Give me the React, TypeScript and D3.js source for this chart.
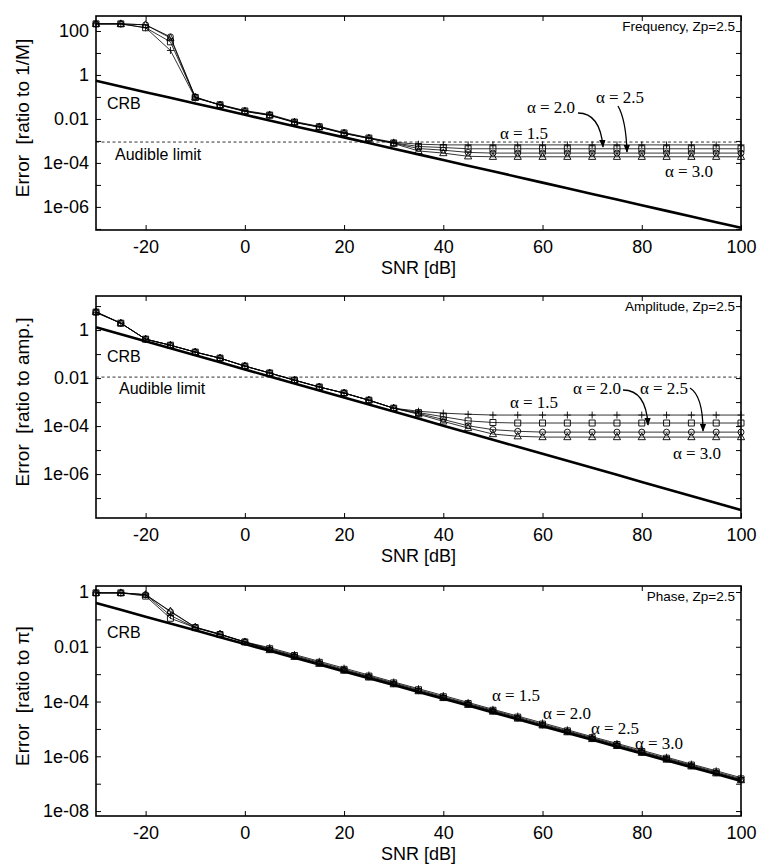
import React, { useEffect, useRef } from "react";
import * as d3 from "d3";

// SNR grid (dB), one point every 5 dB
const snr = [-30, -25, -20, -15, -10, -5, 0, 5, 10, 15, 20, 25, 30, 35, 40, 45, 50, 55, 60, 65, 70, 75, 80, 85, 90, 95, 100];

// ---- Frequency panel
const freqCrb = [5.4e-1, 3.0e-1, 1.64e-1, 9.1e-2, 5.0e-2, 2.8e-2, 1.54e-2, 8.5e-3, 4.7e-3, 2.6e-3, 1.45e-3, 8.0e-4, 4.4e-4, 2.45e-4, 1.36e-4, 7.5e-5, 4.15e-5, 2.3e-5, 1.27e-5, 7.0e-6, 3.9e-6, 2.15e-6, 1.19e-6, 6.6e-7, 3.65e-7, 2.0e-7, 1.12e-7];
const freqA15 = [2.1e2, 2.1e2, 1.4e2, 1.3e1, 8.9e-2, 4.5e-2, 2.4e-2, 1.6e-2, 7.6e-3, 4.6e-3, 2.4e-3, 1.4e-3, 8.7e-4, 7.1e-4, 6.6e-4, 6.6e-4, 6.6e-4, 6.6e-4, 6.6e-4, 6.6e-4, 6.6e-4, 6.6e-4, 6.6e-4, 6.6e-4, 6.6e-4, 6.6e-4, 6.6e-4];
const freqA20 = [2.1e2, 2.1e2, 1.4e2, 3.2e1, 9.5e-2, 4.4e-2, 2.3e-2, 1.5e-2, 7.2e-3, 4.4e-3, 2.3e-3, 1.35e-3, 8.1e-4, 5.6e-4, 5.0e-4, 4.4e-4, 4.4e-4, 4.4e-4, 4.4e-4, 4.4e-4, 4.4e-4, 4.4e-4, 4.4e-4, 4.4e-4, 4.4e-4, 4.4e-4, 4.4e-4];
const freqA25 = [2.1e2, 2.1e2, 1.9e2, 5.4e1, 1.0e-1, 4.3e-2, 2.2e-2, 1.5e-2, 7.1e-3, 4.3e-3, 2.2e-3, 1.3e-3, 7.9e-4, 4.5e-4, 3.8e-4, 3.0e-4, 2.8e-4, 2.8e-4, 2.8e-4, 2.8e-4, 2.8e-4, 2.8e-4, 2.8e-4, 2.8e-4, 2.8e-4, 2.8e-4, 2.8e-4];
const freqA30 = [2.1e2, 2.1e2, 1.9e2, 4.8e1, 9.5e-2, 4.2e-2, 2.2e-2, 1.45e-2, 6.9e-3, 4.2e-3, 2.2e-3, 1.3e-3, 7.6e-4, 3.5e-4, 2.8e-4, 2.0e-4, 1.9e-4, 1.9e-4, 1.9e-4, 1.9e-4, 1.9e-4, 1.9e-4, 1.9e-4, 1.9e-4, 1.9e-4, 1.9e-4, 1.9e-4];
const freqAudible = 8.9e-4;
const freqTicks = [100, 1, 0.01, 1e-4, 1e-6];

// ---- Amplitude panel
const ampCrb = [1.32, 6.71e-1, 3.42e-1, 1.74e-1, 8.87e-2, 4.52e-2, 2.3e-2, 1.17e-2, 5.97e-3, 3.04e-3, 1.55e-3, 7.89e-4, 4.02e-4, 2.05e-4, 1.04e-4, 5.31e-5, 2.7e-5, 1.38e-5, 7.0e-6, 3.57e-6, 1.82e-6, 9.27e-7, 4.72e-7, 2.4e-7, 1.22e-7, 6.24e-8, 3.18e-8];
const ampA15 = [5.3, 1.94, 4.19e-1, 2.34e-1, 1.21e-1, 6.78e-2, 3.16e-2, 1.63e-2, 8.2e-3, 4.25e-3, 2.38e-3, 1.2e-3, 5.56e-4, 4.16e-4, 3.46e-4, 3.11e-4, 2.88e-4, 2.88e-4, 2.88e-4, 2.88e-4, 2.88e-4, 2.88e-4, 2.88e-4, 2.88e-4, 2.88e-4, 2.88e-4, 2.88e-4];
const ampA20 = [5.6, 1.94, 4.19e-1, 2.34e-1, 1.21e-1, 6.78e-2, 3.16e-2, 1.63e-2, 8.2e-3, 4.25e-3, 2.38e-3, 1.2e-3, 5.56e-4, 3.65e-4, 2.45e-4, 1.65e-4, 1.41e-4, 1.34e-4, 1.34e-4, 1.34e-4, 1.34e-4, 1.34e-4, 1.34e-4, 1.34e-4, 1.34e-4, 1.34e-4, 1.34e-4];
const ampA25 = [5.75, 1.94, 4.19e-1, 2.34e-1, 1.21e-1, 6.78e-2, 3.16e-2, 1.63e-2, 8.2e-3, 4.25e-3, 2.38e-3, 1.2e-3, 5.56e-4, 3.37e-4, 1.88e-4, 1.03e-4, 7.1e-5, 6.07e-5, 5.6e-5, 5.6e-5, 5.6e-5, 5.6e-5, 5.6e-5, 5.6e-5, 5.6e-5, 5.6e-5, 5.6e-5];
const ampA30 = [5.75, 1.94, 4.19e-1, 2.34e-1, 1.21e-1, 6.78e-2, 3.16e-2, 1.63e-2, 8.2e-3, 4.25e-3, 2.38e-3, 1.2e-3, 5.56e-4, 3.11e-4, 1.57e-4, 8.3e-5, 4.66e-5, 3.77e-5, 3.48e-5, 3.48e-5, 3.48e-5, 3.48e-5, 3.48e-5, 3.48e-5, 3.48e-5, 3.48e-5, 3.48e-5];
const ampAudible = 1.1e-2;
const ampTicks = [1, 0.01, 1e-4, 1e-6];

// ---- Phase panel
const phaseCrb = [4.0e-1, 2.24e-1, 1.26e-1, 7.1e-2, 4.0e-2, 2.24e-2, 1.26e-2, 7.1e-3, 4.0e-3, 2.24e-3, 1.26e-3, 7.1e-4, 4.0e-4, 2.24e-4, 1.26e-4, 7.1e-5, 4.0e-5, 2.24e-5, 1.26e-5, 7.1e-6, 4.0e-6, 2.24e-6, 1.26e-6, 7.1e-7, 4.0e-7, 2.24e-7, 1.26e-7];
const phaseA15 = [9.3e-1, 9.3e-1, 7.9e-1, 1.4e-1, 5.0e-2, 2.8e-2, 1.5e-2, 9.3e-3, 5.2e-3, 2.95e-3, 1.66e-3, 9.3e-4, 5.2e-4, 2.95e-4, 1.66e-4, 9.3e-5, 5.2e-5, 2.95e-5, 1.66e-5, 9.3e-6, 5.2e-6, 2.95e-6, 1.66e-6, 9.3e-7, 5.2e-7, 2.95e-7, 1.66e-7];
const phaseA20 = [9.3e-1, 9.3e-1, 7.1e-1, 1.1e-1, 5.0e-2, 2.8e-2, 1.5e-2, 8.5e-3, 4.8e-3, 2.7e-3, 1.5e-3, 8.5e-4, 4.8e-4, 2.7e-4, 1.5e-4, 8.5e-5, 4.8e-5, 2.7e-5, 1.5e-5, 8.5e-6, 4.8e-6, 2.7e-6, 1.5e-6, 8.5e-7, 4.8e-7, 2.7e-7, 1.5e-7];
const phaseA25 = [9.3e-1, 9.3e-1, 8.0e-1, 1.9e-1, 5.2e-2, 2.9e-2, 1.5e-2, 8.0e-3, 4.5e-3, 2.5e-3, 1.4e-3, 8.0e-4, 4.5e-4, 2.5e-4, 1.4e-4, 8.0e-5, 4.5e-5, 2.5e-5, 1.4e-5, 8.0e-6, 4.5e-6, 2.5e-6, 1.4e-6, 8.0e-7, 4.5e-7, 2.5e-7, 1.4e-7];
const phaseA30 = [9.3e-1, 9.3e-1, 8.0e-1, 2.0e-1, 5.2e-2, 2.9e-2, 1.5e-2, 7.6e-3, 4.3e-3, 2.4e-3, 1.35e-3, 7.6e-4, 4.3e-4, 2.4e-4, 1.35e-4, 7.6e-5, 4.3e-5, 2.4e-5, 1.35e-5, 7.6e-6, 4.3e-6, 2.4e-6, 1.35e-6, 7.6e-7, 4.3e-7, 2.4e-7, 1.35e-7];
const phaseTicks = [1, 0.01, 1e-4, 1e-6, 1e-8];

const xTicks = [-20, 0, 20, 40, 60, 80, 100];
const alphaLabels = ["α = 1.5", "α = 2.0", "α = 2.5", "α = 3.0"];
const markerKinds = ["plus", "square", "circle", "triangle"];

const panels = [
  {
    title: "Frequency, Zp=2.5", yLabel: "Error  [ratio to 1/M]",
    top: 16, bottom: 230, yDomain: [Math.pow(10, -7.05), Math.pow(10, 2.68)], ticks: freqTicks,
    crb: freqCrb, alphas: [freqA15, freqA20, freqA25, freqA30], audible: freqAudible,
    crbPos: [107, 103], audiblePos: [115, 154],
    alphaPos: [[524, 133], [551, 107], [620, 97], [689, 171]],
    arrows: ["M578,113 Q600,113 603,147", "M618,106 Q626,120 627,152"],
  },
  {
    title: "Amplitude, Zp=2.5", yLabel: "Error  [ratio to amp.]",
    top: 296, bottom: 518, yDomain: [Math.pow(10, -7.83), Math.pow(10, 1.42)], ticks: ampTicks,
    crb: ampCrb, alphas: [ampA15, ampA20, ampA25, ampA30], audible: ampAudible,
    crbPos: [107, 356], audiblePos: [119, 388],
    alphaPos: [[534, 402], [597, 388], [664, 388], [697, 453]],
    arrows: ["M623,390 Q646,390 648,425", "M690,388 Q703,396 703,431"],
  },
  {
    title: "Phase, Zp=2.5", yLabel: "Error  [ratio to π]",
    top: 586, bottom: 816, yDomain: [Math.pow(10, -8.18), Math.pow(10, 0.22)], ticks: phaseTicks,
    crb: phaseCrb, alphas: [phaseA15, phaseA20, phaseA25, phaseA30], audible: null,
    crbPos: [107, 632], audiblePos: null,
    alphaPos: [[516, 695], [567, 713], [615, 728], [659, 743]],
    arrows: [],
  },
];

const LEFT = 96;
const RIGHT = 741;
const SANS = "Liberation Sans, Arial, sans-serif";
const SERIF = "Liberation Serif, Times New Roman, serif";

function markerPath(kind: string) {
  if (kind === "plus") return "M-3.5,0H3.5M0,-3.5V3.5";
  if (kind === "square") return "M-3,-3H3V3H-3Z";
  if (kind === "circle") return "M3,0A3,3 0 1,1 -3,0A3,3 0 1,1 3,0Z";
  return "M0,-4L3.6,2.6L-3.6,2.6Z";
}

function fmtTick(v: number) {
  if (v >= 0.01) return d3.format("~g")(v);
  const e = Math.round(Math.log10(v));
  return `1e-${String(-e).padStart(2, "0")}`;
}

export default function App() {
  const svgRef = useRef<SVGSVGElement>(null);

  useEffect(() => {
    const svg = d3.select(svgRef.current);
    svg.selectAll("*").remove();

    svg.append("defs").append("marker")
      .attr("id", "ah").attr("viewBox", "0 0 10 10").attr("refX", 9).attr("refY", 5)
      .attr("markerWidth", 8).attr("markerHeight", 8).attr("markerUnits", "userSpaceOnUse").attr("orient", "auto")
      .append("path").attr("d", "M0,1L10,5L0,9z").attr("fill", "#000");

    const x = d3.scaleLinear().domain([-30, 100]).range([LEFT, RIGHT]);

    panels.forEach((p) => {
      const y = d3.scaleLog().domain(p.yDomain).range([p.bottom, p.top]);
      const g = svg.append("g");
      const mid = (p.top + p.bottom) / 2;

      // audible limit
      if (p.audible) {
        g.append("line").attr("x1", LEFT).attr("x2", RIGHT).attr("y1", y(p.audible)).attr("y2", y(p.audible))
          .attr("stroke", "#000").attr("stroke-width", 0.8).attr("stroke-dasharray", "3,2.5");
        g.append("text").attr("x", p.audiblePos[0]).attr("y", p.audiblePos[1]).attr("dy", "0.35em")
          .attr("font-family", SANS).attr("font-size", 16).text("Audible limit");
      }

      // alpha series lines
      p.alphas.forEach((vals) => {
        const line = d3.line<number>().x((_, i) => x(snr[i])).y((d) => y(d));
        g.append("path").datum(vals).attr("fill", "none").attr("stroke", "#000").attr("stroke-width", 0.8).attr("d", line);
      });

      // CRB
      const crbLine = d3.line<number>().x((_, i) => x(snr[i])).y((d) => y(d));
      g.append("path").datum(p.crb).attr("fill", "none").attr("stroke", "#000").attr("stroke-width", 2.6).attr("d", crbLine);

      // markers
      p.alphas.forEach((vals, k) => {
        g.append("g").selectAll("path").data(vals).join("path")
          .attr("transform", (d, i) => `translate(${x(snr[i])},${y(d)})`)
          .attr("d", markerPath(markerKinds[k]))
          .attr("fill", "none").attr("stroke", "#000").attr("stroke-width", 0.9);
      });

      // box
      g.append("rect").attr("x", LEFT).attr("y", p.top).attr("width", RIGHT - LEFT).attr("height", p.bottom - p.top)
        .attr("fill", "none").attr("stroke", "#000").attr("stroke-width", 1.6);

      // y ticks at every decade, labels on every other one
      const lo = Math.ceil(Math.log10(p.yDomain[0]) - 1e-9);
      const hi = Math.floor(Math.log10(p.yDomain[1]) + 1e-9);
      const decades = d3.range(lo, hi + 1).map((e) => Math.pow(10, e));
      const labelled = new Set(p.ticks.map((t) => Math.round(Math.log10(t))));
      const tickFmt = (v: any) => (labelled.has(Math.round(Math.log10(v))) ? fmtTick(v) : "");

      g.append("g").attr("transform", `translate(${LEFT},0)`)
        .call(d3.axisLeft(y).tickValues(decades).tickSizeInner(-5).tickSizeOuter(0).tickPadding(7).tickFormat(tickFmt))
        .call((a) => a.select(".domain").remove())
        .call((a) => a.selectAll(".tick line").attr("stroke", "#000").attr("stroke-width", 1))
        .call((a) => a.selectAll(".tick text").attr("fill", "#000").attr("font-size", 18).attr("font-family", SANS));
      g.append("g").attr("transform", `translate(${RIGHT},0)`)
        .call(d3.axisRight(y).tickValues(decades).tickSizeInner(-5).tickSizeOuter(0).tickFormat(() => ""))
        .call((a) => a.select(".domain").remove())
        .call((a) => a.selectAll(".tick line").attr("stroke", "#000").attr("stroke-width", 1));

      // x ticks
      g.append("g").attr("transform", `translate(0,${p.bottom})`)
        .call(d3.axisBottom(x).tickValues(xTicks).tickSizeInner(-5).tickSizeOuter(0).tickPadding(10).tickFormat((v: any) => String(v)))
        .call((a) => a.select(".domain").remove())
        .call((a) => a.selectAll(".tick line").attr("stroke", "#000").attr("stroke-width", 1))
        .call((a) => a.selectAll(".tick text").attr("fill", "#000").attr("font-size", 18).attr("font-family", SANS));
      g.append("g").attr("transform", `translate(0,${p.top})`)
        .call(d3.axisTop(x).tickValues(xTicks).tickSizeInner(-5).tickSizeOuter(0).tickFormat(() => ""))
        .call((a) => a.select(".domain").remove())
        .call((a) => a.selectAll(".tick line").attr("stroke", "#000").attr("stroke-width", 1));

      // axis labels
      g.append("text").attr("x", (LEFT + RIGHT) / 2).attr("y", p.bottom + 38).attr("dy", "0.35em")
        .attr("text-anchor", "middle").attr("font-family", SANS).attr("font-size", 18).text("SNR [dB]");
      g.append("text").attr("transform", `translate(22,${mid - 5}) rotate(-90)`).attr("dy", "0.35em")
        .attr("text-anchor", "middle").attr("font-family", SANS).attr("font-size", 19)
        .style("white-space", "pre").text(p.yLabel);

      // annotations
      g.append("text").attr("x", RIGHT - 6).attr("y", p.top + 10).attr("dy", "0.35em").attr("text-anchor", "end")
        .attr("font-family", SANS).attr("font-size", 13.5).text(p.title);
      g.append("text").attr("x", p.crbPos[0]).attr("y", p.crbPos[1]).attr("dy", "0.35em")
        .attr("font-family", SANS).attr("font-size", 16).text("CRB");
      p.alphaPos.forEach((pos, k) => {
        g.append("text").attr("x", pos[0]).attr("y", pos[1]).attr("dy", "0.35em").attr("text-anchor", "middle")
          .attr("font-family", SERIF).attr("font-size", 17).text(alphaLabels[k]);
      });
      p.arrows.forEach((d) => {
        g.append("path").attr("d", d).attr("fill", "none").attr("stroke", "#000").attr("stroke-width", 1.3)
          .attr("marker-end", "url(#ah)");
      });
    });
  }, []);

  return (
    <div style={{ position: "absolute", left: 0, top: 0 }}>
      <svg ref={svgRef} width={761} height={865} style={{ display: "block", background: "#fff" }} />
    </div>
  );
}
